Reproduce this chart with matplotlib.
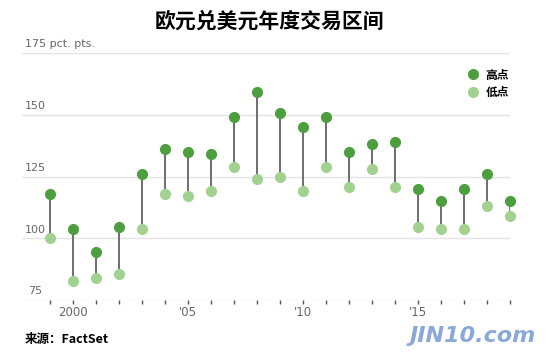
import matplotlib.pyplot as plt
from matplotlib.lines import Line2D

plt.rcParams['font.family'] = ['Noto Sans CJK SC', 'DejaVu Sans']

years = list(range(1999, 2020))
highs = [118, 104, 94.7, 104.8, 126, 136, 135, 134, 149.2, 159.3, 150.9,
         145, 149.3, 135, 138, 139, 120, 115, 120, 126, 115]
lows = [100, 82.8, 84, 85.8, 104, 118, 117, 119, 129, 124, 125,
        119, 129, 121, 128, 121, 104.8, 104, 104, 113, 109]
ytick_vals = [75, 100, 125, 150, 175]
ytick_labels = ['75', '100', '125', '150', '175 pct. pts.']
xtick_vals = [2000, 2005, 2010, 2015]
xtick_labels = ['2000', "'05", "'10", "'15"]

dark = '#4c9e3e'
light = '#a2d290'

fig = plt.figure(figsize=(5.5, 3.54), dpi=100)
ax = fig.add_axes([0.04, 0.1517, 0.887, 0.6986])
ax.set_xlim(1997.78, 2019.0)
ax.set_ylim(75, 175)

# gridlines
for v in ytick_vals:
    ax.axhline(v, color='#e4e4e4', lw=1, zorder=0)
for v, lab in zip(ytick_vals, ytick_labels):
    xoff = 0.012 if v == 75 else 0.006
    ax.text(xoff, v + 1.6, lab, transform=ax.get_yaxis_transform(),
            fontsize=8, color='#666666', ha='left', va='bottom',
            family='DejaVu Sans')

# stems and dots
ax.vlines(years, lows, highs, color='#6e6e6e', lw=1.4, zorder=2)
ax.plot(years, highs, 'o', color=dark, ms=7, zorder=3, clip_on=False)
ax.plot(years, lows, 'o', color=light, ms=7, zorder=3, clip_on=False)

for s in ax.spines.values():
    s.set_visible(False)
ax.set_yticks([])
ax.set_xticks(years)
ax.set_xticklabels(['' for _ in years])
ax.tick_params(axis='x', length=3, width=1, color='#555555', pad=2)
for x, lab in zip(xtick_vals, xtick_labels):
    ax.text(x, -0.025, lab, transform=ax.get_xaxis_transform(),
            ha='center', va='top', fontsize=8.5, color='#666666',
            family='DejaVu Sans')

# legend
handles = [Line2D([], [], marker='o', ls='', color=dark, ms=7),
           Line2D([], [], marker='o', ls='', color=light, ms=7)]
leg = ax.legend(handles, ['高点', '低点'], loc='upper right',
                bbox_to_anchor=(1.02, 0.98), frameon=False,
                handletextpad=0.05, labelspacing=0.4,
                prop={'weight': 'bold', 'size': 8.5})

fig.text(0.49, 0.94, '欧元兑美元年度交易区间', ha='center', va='center',
         fontsize=15, fontweight='bold')
fig.text(0.045, 0.04, '来源：FactSet', ha='left', va='center',
         fontsize=9, fontweight='bold')
fig.text(0.86, 0.05, 'JIN10.com', ha='center', va='center', fontsize=16,
         color='#7f9fd6', style='italic', fontweight='bold', alpha=0.9,
         family='DejaVu Sans')

fig.savefig('out.png', dpi=100)
